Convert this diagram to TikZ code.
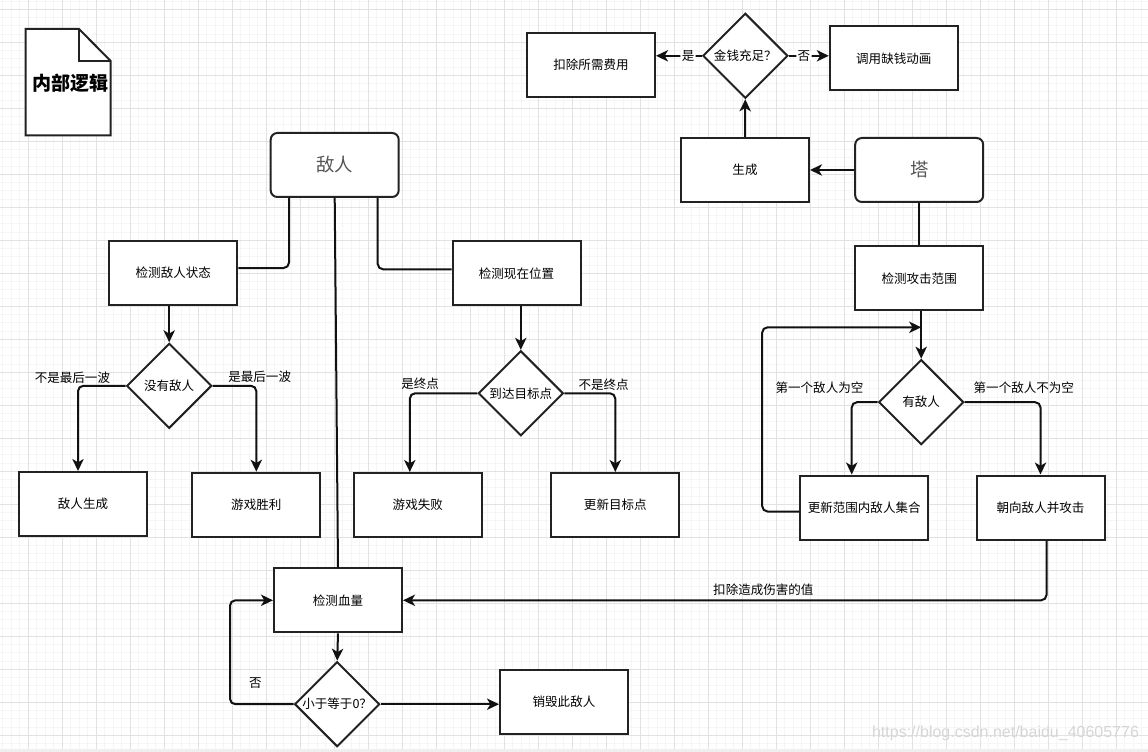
\documentclass[tikz,border=0pt]{standalone}
\usepackage{fontspec}
\setmainfont{Noto Sans CJK SC}
\newfontfamily\markfont{Liberation Sans}
\usetikzlibrary{arrows.meta,positioning,shapes.geometric,calc}
\definecolor{boxline}{HTML}{222222}
\definecolor{linkline}{HTML}{111111}
\definecolor{titlegray}{HTML}{555555}
\definecolor{gridminor}{HTML}{F6F6F6}
\definecolor{gridmajor}{HTML}{E2E2E2}
\definecolor{bandgray}{HTML}{EFEFEF}
\definecolor{markgray}{HTML}{D6D6D6}
\tikzset{
  box/.style={draw=boxline, line width=1.5pt, fill=white, align=center, inner sep=2pt, minimum width=96pt, minimum height=48pt, font=\fontsize{9.4pt}{11pt}\selectfont},
  entity/.style={box, rounded corners=5pt, text=titlegray, font=\fontsize{13.8pt}{16pt}\selectfont},
  decision/.style={diamond, draw=boxline, line width=1.5pt, fill=white, align=center, inner sep=0pt, aspect=1, minimum width=63.75pt, minimum height=63.75pt, font=\fontsize{9.4pt}{11pt}\selectfont},
  lbl/.style={inner sep=1pt, font=\fontsize{9.4pt}{11pt}\selectfont},
  link/.style={draw=linkline, line width=1.5pt, rounded corners=4pt},
  arrow/.style={link, -{Stealth[length=9pt, width=8.5pt, inset=2.5pt]}},
  gridline/.style={draw=gridminor, line width=0.75pt},
  gridmain/.style={draw=gridmajor, line width=0.75pt}
}

\begin{document}
\begin{tikzpicture}[x=0.75pt, y=-0.75pt]
  \useasboundingbox (0,0) rectangle (1148,752);
  \foreach \i in {0,...,134} \draw[gridline] ({2.8+8.5*\i},0) -- ++(0,752);
  \foreach \i in {0,...,90} \draw[gridline] (0,{1.05+8.25*\i}) -- ++(1148,0);
  \foreach \i in {0,...,32} \draw[gridmain] ({28.3+34*\i},0) -- ++(0,752);
  \foreach \i in {0,...,22} \draw[gridmain] (0,{9.3+33*\i}) -- ++(1148,0);
  \fill[bandgray] (0,748.5) rectangle (1148,752);

  \draw[draw=boxline, line width=1.5pt, fill=white] (25.7,29) -- (79,29) -- (110.7,61) -- (110.7,135.3) -- (25.7,135.3) -- cycle;
  \draw[draw=boxline, line width=1.5pt] (79,29) -- (79,61) -- (110.7,61);
  \node[font=\fontsize{14.3pt}{17pt}\selectfont\bfseries] (doctitle) at (70.3,83.3) {内部逻辑};

  \node[entity] (enemy) at (334.7,165) {敌人};
  \node[box] (checkstate) at (173.3,273) {检测敌人状态};
  \node[box] (checkpos) at (516.5,273.3) {检测现在位置};
  \node[decision] (noenemy) at (169.2,385.8) {没有敌人};
  \node[box] (spawn) at (83,504) {敌人生成};
  \node[box] (win) at (256.3,504.7) {游戏胜利};
  \node[decision] (reached) at (520.8,393.3) {到达目标点};
  \node[box] (lose) at (417.8,505) {游戏失败};
  \node[box] (newtarget) at (615.3,505) {更新目标点};
  \node[box] (hp) at (338,600.3) {检测血量};
  \node[decision] (dead) at (337.2,704.2) {小于等于0？};
  \node[box] (destroy) at (564,701.5) {销毁此敌人};

  \node[entity] (tower) at (919.2,170) {塔};
  \node[box] (build) at (745,170) {生成};
  \node[decision] (money) at (745.3,55.8) {金钱充足？};
  \node[box] (pay) at (591,64.8) {扣除所需费用};
  \node[box] (nomoney) at (893.8,58.5) {调用缺钱动画};
  \node[box] (range) at (919.2,278.3) {检测攻击范围};
  \node[decision] (hasenemy) at (921.2,402.2) {有敌人};
  \node[box] (refresh) at (864.2,507.5) {更新范围内敌人集合};
  \node[box] (attack) at (1040.5,507.5) {朝向敌人并攻击};

  \draw[link] ($(enemy.south)+(-45.7,0)$) |- ($(checkstate.east)+(0,-5)$);
  \draw[link] (enemy.south) -- (hp.north);
  \draw[link] ($(enemy.south)+(43,0)$) |- ($(checkpos.west)+(0,-4)$);
  \draw[arrow] (checkstate.south -| noenemy) -- (noenemy.north);
  \draw[arrow] (noenemy.west) node[lbl, above left=0pt and 10pt] {不是最后一波} -| ($(spawn.north)+(-5,0)$);
  \draw[arrow] (noenemy.east) node[lbl, above right=1pt and 10pt] {是最后一波} -| (win.north);
  \draw[arrow] (checkpos.south -| reached) -- (reached.north);
  \draw[arrow] (reached.west) node[lbl, above left=1pt and 27pt] {是终点} -| ($(lose.north)+(-8,0)$);
  \draw[arrow] (reached.east) node[lbl, above right=0pt and 9pt] {不是终点} -| (newtarget.north);
  \draw[arrow] (hp.south) -- (dead.north);
  \draw[arrow] (dead.east) -- (dead.east -| destroy.west);
  \draw[arrow] (dead.west) -| node[lbl, above=10pt, pos=0.3] {否} ($(hp.west)+(-43,0)$) -- (hp.west);

  \draw[arrow] (tower.west) -- (build.east);
  \draw[arrow] (build.north) -- (money.south);
  \draw[arrow] (money.west) -- node[lbl, fill=white, pos=0.3] {是} (money.west -| pay.east);
  \draw[arrow] (money.east) -- node[lbl, fill=white, pos=0.38] {否} (money.east -| nomoney.west);
  \draw[link] (tower.south) -- (range.north);
  \path (range.south -| hasenemy.north) ++(0,16) coordinate (join);
  \draw[arrow] (range.south -| hasenemy) -- (hasenemy.north);
  \draw[arrow] ($(refresh.west)+(0,4)$) -- ++(-37,0) |- (join);
  \draw[arrow] (hasenemy.west) node[lbl, above left=5pt and 9pt] {第一个敌人为空} -| ($(refresh.north)+(-12.5,0)$);
  \draw[arrow] (hasenemy.east) node[lbl, above right=5pt and 5pt] {第一个敌人不为空} -| (attack.north);
  \draw[arrow] ($(attack.south)+(6,0)$) |- node[lbl, above=2pt, pos=0.72] {扣除造成伤害的值} (hp.east);

  \node[font=\markfont\fontsize{12pt}{14pt}\selectfont, text=markgray] (mark) at (1005.5,733.3) {https://blog.csdn.net/baidu\_40605776};
\end{tikzpicture}
\end{document}
